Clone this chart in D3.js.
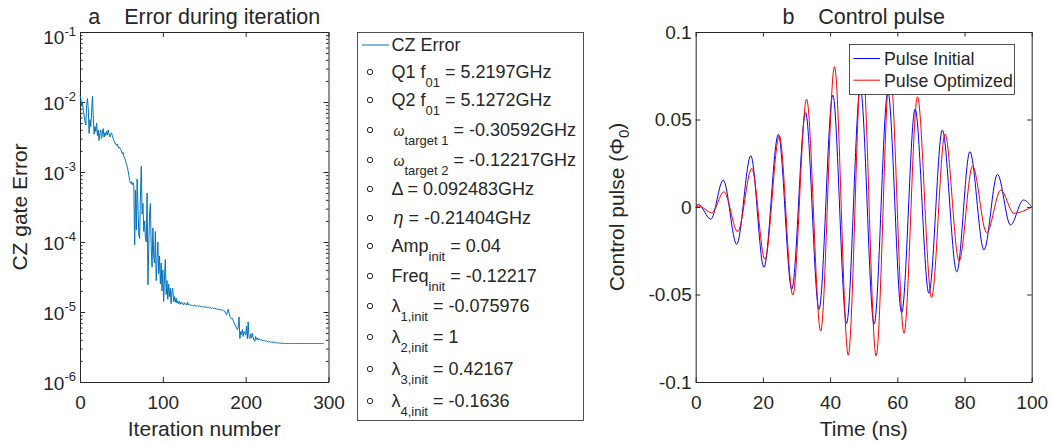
<!DOCTYPE html>
<html lang="en">
<head>
<meta charset="UTF-8">
<title>CZ gate optimisation</title>
<script src="https://d3js.org/d3.v7.min.js"></script>
<style>
  body { margin: 0; background: #fff; }
  svg text { font-family: "Liberation Sans", Arial, Helvetica, sans-serif; fill: #262626; }
  .axis path, .axis line { stroke: #262626; stroke-width: 1; }
</style>
</head>
<body>
<script>
// ---- panel a data: log10 of CZ gate error per iteration ----
const errXTicks = [0, 100, 200, 300];
const errYTicks = [1e-6, 1e-5, 1e-4, 1e-3, 1e-2, 1e-1];
const czErrorLog10 = [
  -1.90,-1.95,-2.05,-2.00,-2.12,-2.20,-2.28,-2.33,-2.05,-1.95,-2.10,-2.45,-2.25,-2.35,-2.15,-1.92,-2.20,-2.46,-2.35,-2.42,
  -2.30,-2.48,-2.40,-2.55,-2.45,-2.40,-2.52,-2.45,-2.38,-2.50,-2.44,-2.48,-2.42,-2.47,-2.40,-2.45,-2.50,-2.46,-2.44,-2.48,
  -2.52,-2.55,-2.58,-2.60,-2.62,-2.60,-2.64,-2.66,-2.65,-2.68,-2.70,-2.74,-2.72,-2.78,-2.80,-2.84,-2.88,-2.92,-2.98,-3.05,
  -3.12,-3.16,-3.14,-3.18,-3.15,-3.20,-4.04,-3.26,-3.83,-3.10,-3.50,-3.90,-3.95,-3.30,-2.92,-3.60,-3.45,-3.85,-3.70,-3.95,
  -4.00,-3.30,-4.61,-4.09,-3.60,-3.45,-4.10,-4.36,-3.80,-4.20,-4.30,-3.85,-4.55,-4.25,-4.00,-4.45,-4.20,-4.60,-4.30,-4.70,
  -4.40,-4.85,-4.50,-4.25,-4.75,-4.55,-4.82,-4.60,-4.78,-4.66,-4.88,-4.70,-4.66,-4.85,-4.78,-4.86,-4.80,-4.87,-4.84,-4.88,
  -4.85,-4.89,-4.86,-4.88,-4.87,-4.90,-4.87,-4.89,-4.88,-4.90,-4.86,-4.90,-4.89,-4.90,-4.91,-4.90,-4.91,-4.91,-4.90,-4.91,
  -4.92,-4.91,-4.91,-4.92,-4.91,-4.92,-4.92,-4.92,-4.93,-4.92,-4.93,-4.93,-4.93,-4.93,-4.94,-4.93,-4.94,-4.94,-4.94,-4.95,
  -4.94,-4.95,-4.95,-4.95,-4.95,-4.96,-4.96,-4.96,-4.96,-4.97,-4.97,-4.97,-4.97,-4.98,-4.98,-5.00,-5.02,-5.04,-4.99,-4.96,
  -5.02,-5.06,-5.08,-5.10,-5.09,-5.12,-5.15,-5.18,-5.20,-5.23,-5.25,-5.22,-5.07,-5.38,-5.28,-5.32,-5.25,-5.35,-5.28,-5.30,
  -5.33,-5.20,-5.38,-5.14,-5.35,-5.38,-5.32,-5.37,-5.30,-5.36,-5.40,-5.42,-5.35,-5.39,-5.37,-5.40,-5.38,-5.39,-5.40,-5.39,
  -5.41,-5.40,-5.41,-5.41,-5.42,-5.41,-5.42,-5.42,-5.43,-5.42,-5.43,-5.43,-5.43,-5.43,-5.44,-5.43,-5.44,-5.44,-5.44,-5.44,
  -5.44,-5.45,-5.45,-5.44,-5.45,-5.45,-5.45,-5.45,-5.45,-5.45,-5.45,-5.45,-5.45,-5.45,-5.45,-5.45,-5.45,-5.45,-5.45,-5.45,
  -5.45,-5.45,-5.45,-5.45,-5.45,-5.45,-5.45,-5.45,-5.45,-5.45,-5.45,-5.45,-5.45,-5.45,-5.45,-5.45,-5.45,-5.45,-5.45,-5.45,
  -5.45,-5.45,-5.45,-5.45,-5.45,-5.45,-5.45,-5.45,-5.45,-5.45,-5.45,-5.45,-5.45,-5.45,-5.45
];

// legend of panel a
const paramMain = ["Q1 f", "Q2 f", "\u03c9", "\u03c9", "\u0394 = 0.092483GHz", "\u03b7", "Amp", "Freq", "\u03bb", "\u03bb", "\u03bb", "\u03bb"];
const paramSub  = ["01", "01", "target 1", "target 2", "", "", "init", "init", "1,init", "2,init", "3,init", "4,init"];
const paramRest = [" = 5.2197GHz", " = 5.1272GHz", " = -0.30592GHz", " = -0.12217GHz", "", " = -0.21404GHz",
                   " = 0.04", " = -0.12217", " = -0.075976", " = 1", " = 0.42167", " = -0.1636"];

// ---- panel b data: pulse turning points (ns, Phi0) ----
const pulseXTicks = [0, 20, 40, 60, 80, 100];
const pulseYTicks = [-0.1, -0.05, 0, 0.05, 0.1];
const initTime = [0, 0.8, 4.5, 8.2, 12.2, 16.4, 20.3, 24.6, 28.6, 32.7, 36.7, 40.8, 44.9, 49.0, 53.1, 57.2, 61.3, 65.3, 69.4, 73.4, 77.7, 81.6, 85.8, 89.8, 93.7, 97.5, 100];
const initPulse = [0, 0.0015, -0.007, 0.0154, -0.0213, 0.0293, -0.0345, 0.0415, -0.0469, 0.0539, -0.0585, 0.064, -0.0665, 0.068, -0.067, 0.066, -0.0604, 0.056, -0.0493, 0.044, -0.0371, 0.0316, -0.0246, 0.0187, -0.0103, 0.004, 0];
const optTime = [0, 1.0, 4.8, 8.4, 12.5, 16.7, 20.6, 24.9, 28.9, 33.0, 37.2, 41.3, 45.4, 49.5, 53.7, 57.8, 62.0, 66.0, 70.2, 74.2, 78.4, 82.4, 86.6, 90.8, 94.7, 100];
const optPulse = [0, 0.0005, -0.0033, 0.0087, -0.0141, 0.0221, -0.0299, 0.0406, -0.0503, 0.0617, -0.0709, 0.0802, -0.0846, 0.088, -0.0851, 0.080, -0.0722, 0.063, -0.0516, 0.0417, -0.0309, 0.0234, -0.0147, 0.0097, -0.0036, 0];
const pulseNames = ["Pulse Initial", "Pulse Optimized"];

const svg = d3.select("body").append("svg")
    .attr("width", 1052)
    .attr("height", 444);

const tickFont = 19, labelFont = 21, titleFont = 21.5, legFont = 18;

// ============ panel a ============
const ax = {left: 80, right: 328.5, top: 32, bottom: 382};
const xa = d3.scaleLinear().domain([0, 300]).range([ax.left, ax.right]);
const ya = d3.scaleLog().domain([1e-6, 1e-1]).range([ax.bottom, ax.top]);

const minorA = [];
errYTicks.slice(0, -1).forEach(d => { for (let k = 2; k < 10; k++) minorA.push(d * k); });

const ga = svg.append("g");

ga.append("g").attr("class", "axis")
    .attr("transform", `translate(0,${ax.bottom})`)
    .call(d3.axisBottom(xa).tickValues(errXTicks).tickSize(-5).tickSizeOuter(0).tickPadding(13.5))
    .call(g => g.selectAll("text").attr("font-size", tickFont).attr("fill", "#262626"));
ga.append("g").attr("class", "axis")
    .attr("transform", `translate(0,${ax.top})`)
    .call(d3.axisTop(xa).tickValues(errXTicks).tickSize(-5).tickSizeOuter(0).tickFormat(""));
[[d3.axisLeft, ax.left], [d3.axisRight, ax.right]].forEach(([fn, x0]) => {
  ga.append("g").attr("class", "axis")
      .attr("transform", `translate(${x0},0)`)
      .call(fn(ya).tickValues(errYTicks).tickSize(-5).tickSizeOuter(0).tickFormat(""));
  ga.append("g").attr("class", "axis")
      .attr("transform", `translate(${x0},0)`)
      .call(fn(ya).tickValues(minorA).tickSize(-2.6).tickSizeOuter(0).tickFormat(""))
      .call(g => g.select(".domain").remove());
});

// 10^k labels
const yLab = ga.append("g").selectAll("text").data(errYTicks).join("text")
    .attr("x", ax.left - 4)
    .attr("y", d => ya(d) + (d === 1e-1 ? 12 : 7.5))
    .attr("text-anchor", "end")
    .attr("font-size", tickFont);
yLab.append("tspan").text("10");
yLab.append("tspan").attr("dy", -8.5).attr("font-size", 13).text(d => Math.round(Math.log10(d)));

ga.append("path")
    .datum(czErrorLog10)
    .attr("fill", "none")
    .attr("stroke", "#0072BD")
    .attr("stroke-width", 1)
    .attr("stroke-linejoin", "round")
    .attr("d", d3.line().x((d, i) => xa(i)).y(d => ya(Math.pow(10, d))));

ga.append("text")
    .attr("x", (ax.left + ax.right) / 2).attr("y", 24)
    .attr("text-anchor", "middle").attr("font-size", titleFont)
    .text("a\u00a0\u00a0\u00a0\u00a0Error during iteration");
ga.append("text")
    .attr("x", (ax.left + ax.right) / 2).attr("y", 436)
    .attr("text-anchor", "middle").attr("font-size", labelFont)
    .text("Iteration number");
ga.append("text")
    .attr("transform", `translate(27,${(ax.top + ax.bottom) / 2}) rotate(-90)`)
    .attr("text-anchor", "middle").attr("font-size", labelFont)
    .text("CZ gate Error");

// legend a
const la = svg.append("g");
la.append("rect")
    .attr("x", 357.5).attr("y", 32.5).attr("width", 226).attr("height", 388)
    .attr("fill", "#fff").attr("stroke", "#262626").attr("stroke-width", 0.8);
const rowY = [45, 72, 100, 130, 160, 189, 218, 246, 276, 306, 337, 369, 401];
la.append("line")
    .attr("x1", 362).attr("x2", 389).attr("y1", rowY[0]).attr("y2", rowY[0])
    .attr("stroke", "#0072BD").attr("stroke-width", 1);
la.append("text")
    .attr("x", 391.5).attr("y", rowY[0] + 6.3).attr("font-size", legFont)
    .text("CZ Error");
paramMain.forEach((m, i) => {
  const y = rowY[i + 1];
  la.append("circle")
      .attr("cx", 370).attr("cy", y).attr("r", 2.7)
      .attr("fill", "none").attr("stroke", "#262626").attr("stroke-width", 1);
  const t = la.append("text")
      .attr("x", 391.5).attr("y", y + 6.3).attr("font-size", legFont);
  const greek = m === "\u03c9" || m === "\u03b7";
  t.append("tspan")
      .attr("font-size", m === "\u03c9" ? 14 : legFont)
      .attr("font-style", greek ? "italic" : null)
      .attr("dx", greek ? 2 : 0)
      .text(m);
  if (paramSub[i]) {
    t.append("tspan").attr("dy", 9).attr("font-size", 13).text(paramSub[i]);
    t.append("tspan").attr("dy", -9).attr("font-size", legFont).text(paramRest[i]);
  } else if (paramRest[i]) {
    t.append("tspan").text(paramRest[i]);
  }
});

// ============ panel b ============
const bx = {left: 695.7, right: 1031.7, top: 32, bottom: 382};
const xb = d3.scaleLinear().domain([0, 100]).range([bx.left, bx.right]);
const yb = d3.scaleLinear().domain([-0.1, 0.1]).range([bx.bottom, bx.top]);

const gb = svg.append("g");
gb.append("g").attr("class", "axis")
    .attr("transform", `translate(0,${bx.bottom})`)
    .call(d3.axisBottom(xb).tickValues(pulseXTicks).tickSize(-4.5).tickSizeOuter(0).tickPadding(13.5))
    .call(g => g.selectAll("text").attr("font-size", tickFont).attr("fill", "#262626"));
gb.append("g").attr("class", "axis")
    .attr("transform", `translate(0,${bx.top})`)
    .call(d3.axisTop(xb).tickValues(pulseXTicks).tickSize(-4.5).tickSizeOuter(0).tickFormat(""));
gb.append("g").attr("class", "axis")
    .attr("transform", `translate(${bx.left},0)`)
    .call(d3.axisLeft(yb).tickValues(pulseYTicks).tickSize(-4.5).tickSizeOuter(0).tickPadding(4)
      .tickFormat(d => d === 0 ? "0" : String(d)))
    .call(g => g.selectAll("text").attr("font-size", tickFont).attr("fill", "#262626"));
gb.append("g").attr("class", "axis")
    .attr("transform", `translate(${bx.right},0)`)
    .call(d3.axisRight(yb).tickValues(pulseYTicks).tickSize(-4.5).tickSizeOuter(0).tickFormat(""));

svg.append("clipPath").attr("id", "clipb")
  .append("rect").attr("x", bx.left).attr("y", bx.top)
  .attr("width", bx.right - bx.left).attr("height", bx.bottom - bx.top);

const pulseLine = d3.line().curve(d3.curveMonotoneX).x(d => xb(d[0])).y(d => yb(d[1]));
const pulses = [
  {pts: d3.zip(initTime, initPulse), color: "#0000FF"},
  {pts: d3.zip(optTime, optPulse), color: "#FF0000"}
];
gb.append("g").attr("clip-path", "url(#clipb)")
  .selectAll("path").data(pulses).join("path")
    .attr("fill", "none")
    .attr("stroke", d => d.color)
    .attr("stroke-width", 1)
    .attr("d", d => pulseLine(d.pts));

gb.append("text")
    .attr("x", (bx.left + bx.right) / 2).attr("y", 24)
    .attr("text-anchor", "middle").attr("font-size", titleFont)
    .text("b\u00a0\u00a0\u00a0\u00a0Control pulse");
gb.append("text")
    .attr("x", (bx.left + bx.right) / 2).attr("y", 436)
    .attr("text-anchor", "middle").attr("font-size", labelFont)
    .text("Time (ns)");
const yt = gb.append("text")
    .attr("transform", `translate(623.5,${(bx.top + bx.bottom) / 2}) rotate(-90)`)
    .attr("text-anchor", "middle").attr("font-size", labelFont);
yt.append("tspan").text("Control pulse (\u03a6");
yt.append("tspan").attr("dy", 5).attr("font-size", 15).text("0");
yt.append("tspan").attr("dy", -5).text(")");

// legend b
const lb = svg.append("g");
lb.append("rect")
    .attr("x", 849.5).attr("y", 44.5).attr("width", 165).attr("height", 50)
    .attr("fill", "#fff").attr("stroke", "#262626").attr("stroke-width", 0.8);
pulses.forEach((p, i) => {
  const y = 58.5 + i * 21.7;
  lb.append("line").attr("x1", 853.5).attr("x2", 880).attr("y1", y).attr("y2", y)
      .attr("stroke", p.color).attr("stroke-width", 1);
  lb.append("text").attr("x", 884).attr("y", y + 6.3).attr("font-size", 17.7)
      .text(pulseNames[i]);
});
</script>
</body>
</html>
